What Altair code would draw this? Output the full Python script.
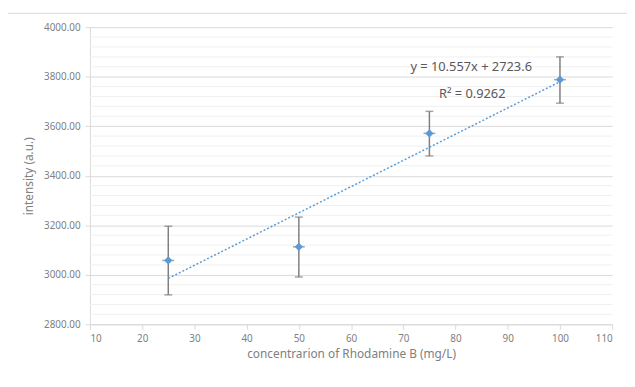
import altair as alt
import pandas as pd

conc = [25, 50, 75, 100]
intensity = [3058, 3113, 3571, 3788]
err_low = [2919, 2991, 3480, 3693]
err_high = [3196, 3233, 3660, 3880]

eq_text = ["y = 10.557x + 2723.6", "R\u00b2 = 0.9262"]
eq_x = [83.0, 83.2]
eq_y = [3840, 3730]

df = pd.DataFrame({"conc": conc, "intensity": intensity, "lo": err_low, "hi": err_high})
lab = pd.DataFrame({"t": eq_text, "x": eq_x, "y": eq_y})

FONT = "Noto Sans"
GREY = "#595959"
LGREY = "#808080"

xs = alt.Scale(domain=[10, 110], nice=False, zero=False)
ys = alt.Scale(domain=[2800, 4000], nice=False, zero=False)

base = alt.Chart(df)

minor = alt.Chart(pd.DataFrame({"v": list(range(2840, 4000, 40))})).transform_filter(
    "datum.v % 200 != 0"
).mark_rule(color="#f0f0f0", strokeWidth=1).encode(
    y=alt.Y("v:Q", scale=ys)
)

x_axis = alt.Axis(values=list(range(10, 111, 10)), grid=False, domainColor="#d9d9d9",
                  tickColor="#d9d9d9", tickSize=5, labelColor=LGREY, labelFontSize=10,
                  labelFont=FONT, title="concentrarion of Rhodamine B (mg/L)",
                  titleFont=FONT, titleFontSize=12, titleColor=LGREY, titleFontWeight="normal",
                  titlePadding=6, labelPadding=4)
y_axis = alt.Axis(values=list(range(2800, 4001, 200)), format=".2f", grid=True,
                  gridColor="#d9d9d9", domainColor="#d9d9d9", tickColor="#d9d9d9",
                  tickSize=5, labelColor=LGREY, labelFontSize=10, labelFont=FONT,
                  title="intensity (a.u.)", titleFont=FONT, titleFontSize=12,
                  titleColor=LGREY, titleFontWeight="normal", titlePadding=8, labelPadding=5)

err = base.mark_rule(color="#7f7f7f", strokeWidth=1.5).encode(
    x=alt.X("conc:Q", scale=xs, axis=x_axis),
    y=alt.Y("lo:Q", scale=ys, axis=y_axis),
    y2="hi:Q",
)
cap_hi = base.mark_tick(color="#7f7f7f", orient="horizontal", size=8, thickness=1.5).encode(
    x=alt.X("conc:Q", scale=xs), y=alt.Y("hi:Q", scale=ys))
cap_lo = base.mark_tick(color="#7f7f7f", orient="horizontal", size=8, thickness=1.5).encode(
    x=alt.X("conc:Q", scale=xs), y=alt.Y("lo:Q", scale=ys))
cap_mid = base.mark_tick(color="#7f7f7f", orient="horizontal", size=12, thickness=1.5).encode(
    x=alt.X("conc:Q", scale=xs), y=alt.Y("intensity:Q", scale=ys))

trend = base.transform_regression("conc", "intensity").mark_line(
    color="#5b9bd5", strokeDash=[2, 2], strokeWidth=1.5
).encode(x=alt.X("conc:Q", scale=xs), y=alt.Y("intensity:Q", scale=ys))

pts = base.mark_point(shape="diamond", filled=True, color="#5b9bd5", size=70, opacity=1).encode(
    x=alt.X("conc:Q", scale=xs), y=alt.Y("intensity:Q", scale=ys))

texts = alt.Chart(lab).mark_text(font=FONT, fontSize=13, color=GREY).encode(
    x=alt.X("x:Q", scale=xs), y=alt.Y("y:Q", scale=ys), text="t:N")

one = alt.Chart(pd.DataFrame({"a": [0]}))
border_top = one.mark_rule(color="#d9d9d9", strokeWidth=1).encode(
    x=alt.value(-84), x2=alt.value(700), y=alt.value(-14))
border_left = one.mark_rule(color="#d9d9d9", strokeWidth=1).encode(
    x=alt.value(-84), y=alt.value(-14), y2=alt.value(500))

chart = alt.layer(
    minor, err, cap_hi, cap_lo, cap_mid, trend, pts, texts, border_top, border_left
).properties(
    width=529, height=301,
    autosize=alt.AutoSizeParams(type="none"),
    padding={"left": 83, "top": 17, "right": 15, "bottom": 53},
    background="white",
).configure_view(stroke=None)

chart.save("out.html", embed_options={"renderer": "svg", "actions": False})
